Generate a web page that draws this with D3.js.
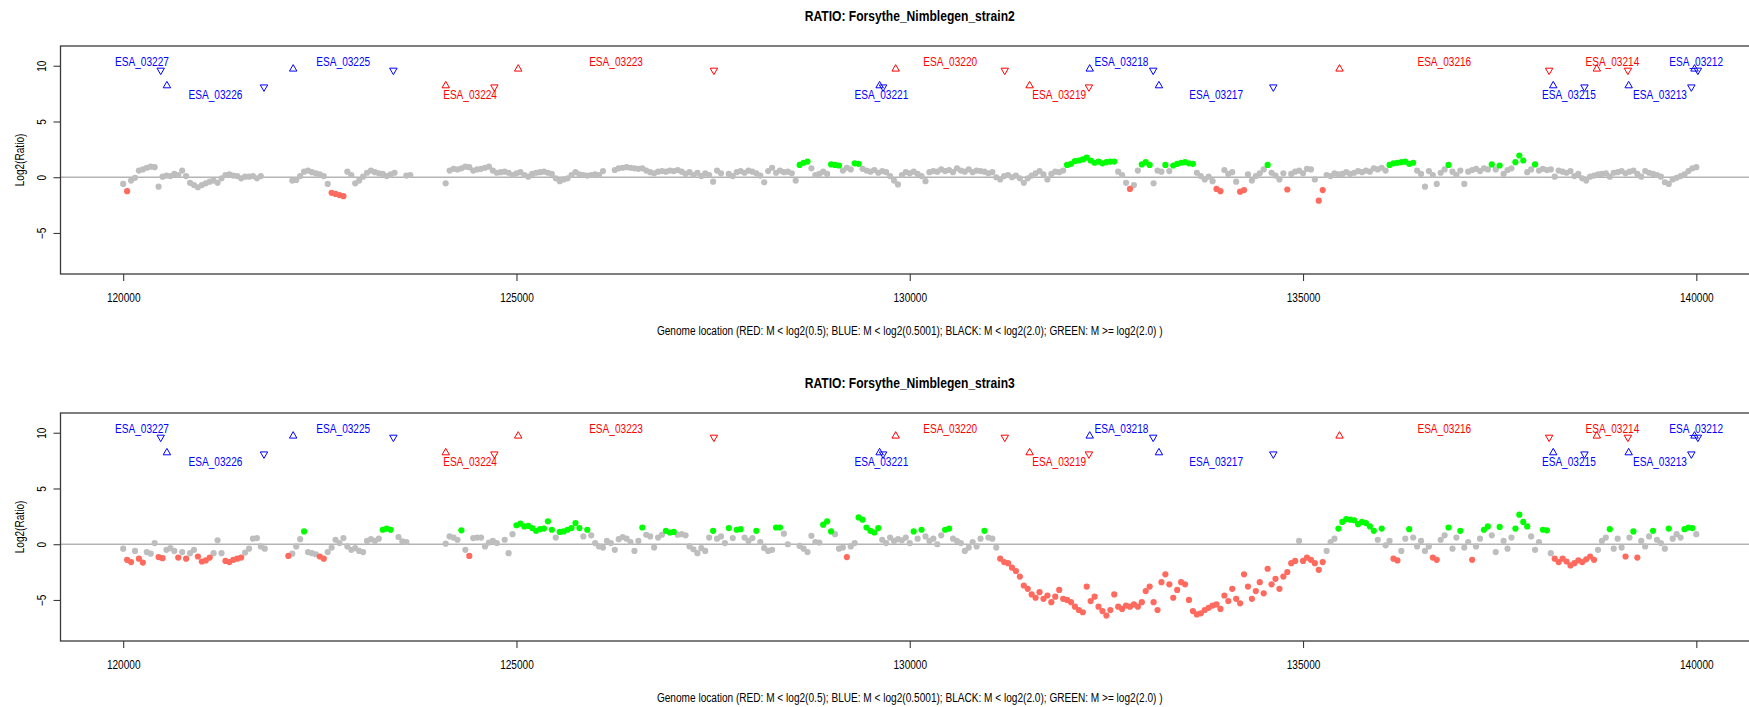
<!DOCTYPE html>
<html>
<head>
<meta charset="utf-8">
<script src="https://cdn.jsdelivr.net/npm/d3@7"></script>
<style>
  body { margin: 0; background: #fff; }
  svg { display: block; }
  text { font-family: "Liberation Sans", Arial, Helvetica, sans-serif; }
</style>
</head>
<body>
<svg id="chart" width="1749" height="707"></svg>
<script>
// Probe spacing along the genome (bp); each run lists consecutive probe log2 ratios.
const probeStep = 50;

// Forsythe_Nimblegen_strain2: [first probe position, [log2 ratios...]]
const strain2Runs = [
  [120000, [-0.6,-1.25,-0.3,-0.05,0.6,0.7,0.85,0.95,0.9,-0.85,0.05,0.15,0.1,0.3,0.2,0.6,0.1,-0.5,-0.7,-0.9,-0.7,-0.55,-0.4,-0.3,-0.5,-0.1,0.2,0.25,0.15,0.1,-0.1,0.05,0.05,0.1,-0.1,0.1]],
  [122150, [-0.3,-0.25,0.1,0.5,0.6,0.45,0.35,0.25,0.1,-0.6,-1.4,-1.5,-1.6,-1.7,0.5,0.2,-0.55,-0.3,0.05,0.4,0.6,0.45,0.35,0.3,0.1,0.25,0.4]],
  [123600, [0.15,0.2]],
  [124100, [-0.55,0.6,0.75,0.7,0.8,0.95,0.9,0.6,0.7,0.75,0.85,0.95,0.6,0.4,0.45,0.5,0.4,0.2,0.35,0.45,0.2,0.05,0.3,0.4,0.45,0.5,0.4,0.3,-0.1,-0.35,-0.2,-0.1,0.2,0.45,0.25,0.2,0.15,0.2,0.25,0.2,0.55]],
  [126250, [0.65,0.8,0.85,0.9,0.85,0.8,0.75,0.8,0.6,0.45,0.35,0.5,0.55,0.5,0.6,0.55,0.65,0.5,0.3,0.45,0.2,0.4,0.1,0.35,0.2,-0.4,0.6,0.35]],
  [127700, [0.3,0.1,0.45,0.55,0.4,0.6,0.5,0.35,0.15,-0.45,0.55,0.85,0.4,0.6,0.45,0.5,0.35]],
  [128550, [-0.3,1.1,1.3,1.4,0.8,0.2,0.3,0.5,0.3,1.15,1.1,1.05,0.6,0.85,0.7,1.25,1.2,0.75,0.6,0.5,0.65,0.4,0.55,0.45,0.1,-0.3,-0.65,0.2,0.45,0.35,0.5,0.3,0.1,-0.35,0.45,0.55,0.5,0.7,0.55,0.65,0.45,0.8,0.6,0.5,0.7,0.45,0.6,0.55,0.5,0.35,0.45,0.0,-0.2,0.1,0.2,0.0,0.15,-0.1,-0.5,-0.1,0.15,0.35,0.55,0.25,-0.2,0.3,0.5,0.45,0.6,1.1,1.2,1.45,1.5,1.6,1.75,1.5,1.3,1.4,1.25,1.35,1.4,1.4,0.5,0.2,-0.5,-1.05,-0.7,0.6,1.15,1.35,1.1,-0.55,0.6,0.5,1.1,0.55,1.05,1.2,1.3,1.35,1.25,1.2,0.4,0.1,-0.2,0.05,-0.35,-1.05,-1.25,0.65,0.3,0.45,-0.4,-1.3,-1.15,0.25,-0.3,0.1,0.35,0.7,1.1,0.4,0.15,-0.2,0.35,-1.1,0.3,0.5,0.6,0.35,0.75,0.7,-0.2,-2.1,-1.15,0.2,0.1,0.35,0.25,0.3,0.45,0.3,0.4,0.55,0.45,0.6,0.5,0.8,0.7,0.85,0.6,1.1,1.25,1.3,1.35,1.4,1.2,1.3,0.6,0.3,-0.85,0.55,0.2,-0.6,0.4,0.7,1.1,0.5,0.2,0.6,-0.6,0.5,0.65,0.75,0.55,0.8,0.7,1.15,0.7,1.05,0.3,0.65,0.8,1.35,1.95,1.5,0.45,0.7,1.15,0.6,0.75,0.65,0.7,0.05,0.6,0.5,0.4,0.55,0.1,0.3,-0.1,-0.3,0.05,0.15,0.25,0.3,0.35,0.05,0.4,0.45,0.55,0.35,0.5,0.6,0.3,0.05,0.55,0.4,0.3,0.2,0.05,-0.45,-0.6,-0.2,-0.05,0.1,0.25,0.55,0.8,0.9]]
];

// Forsythe_Nimblegen_strain3
const strain3Runs = [
  [120000, [-0.4,-1.4,-1.6,-0.6,-1.3,-1.65,-0.7,-0.85,0.1,-1.15,-1.25,-0.5,-0.35,-0.6,-1.2,-0.7,-1.3,-0.8,-0.5,-1.1,-1.55,-1.45,-1.2,-0.8,0.35,-0.8,-1.5,-1.6,-1.4,-1.3,-1.2,-0.75,-0.4,0.5,0.55,-0.2,-0.4]],
  [122100, [-1.05,-0.85,-0.2,0.45,1.15,-0.7,-0.8,-0.9,-1.1,-1.3,-0.7,-0.3,0.4,0.1,0.55,-0.2,-0.5,-0.35,-0.6,-0.7,0.3,0.45,0.3,0.5,1.3,1.4,1.3]],
  [123500, [0.65,0.25,0.2]],
  [124100, [0.05,0.7,0.6,0.4,1.25,-0.5,-1.05,0.55,0.6,0.6,-0.2,0.15,0.3,0.1]],
  [124850, [0.4,-0.8,0.9,1.7,1.85,1.6,1.65,1.45,1.2,1.35,1.4,2.05,1.3,0.6,1.1,1.15,1.3,1.45,1.9,1.45,0.7,1.3,0.8,0.1,-0.2,-0.3,0.3,0.1,-0.5,0.45,0.65,0.5,0.2,-0.6,0.3,1.5,0.85,0.7,-0.3,0.6,0.85,1.2,1.05,1.1,0.85,0.9,0.8,-0.2,-0.45,-0.8,-0.35,-0.6,0.6,1.2,0.5,0.7,0.1,1.45,0.55,1.3,1.35,0.6,0.3,0.55,1.2,0.2,-0.35,-0.6,-0.5,1.5,1.5,0.95,0.0]],
  [128600, [-0.15,-0.4,-0.7,0.75,0.2,0.15,1.75,2.05,1.15,0.9,-0.4,-0.3,-1.15,-0.2,0.1,2.4,2.2,1.5,1.2,1.05,1.45,0.4,0.1,0.6,0.3,0.45,0.35,0.6,0.1,1.15,0.5,1.3,0.7,0.3,0.5,0.0,0.8,1.3,1.4,0.5,0.3,0.1,-0.6,-0.3,0.2,-0.2,0.5,1.2,0.6,0.5,-0.3,-1.3,-1.6,-1.7,-2.1,-2.4,-2.9,-3.7,-4.0,-4.5,-4.8,-4.3,-4.9,-4.6,-5.2,-4.7,-4.1,-4.9,-5.0,-5.2,-5.6,-5.9,-6.1,-3.8,-5.1,-4.7,-5.6,-6.0,-6.4,-5.9,-4.5,-5.6,-5.8,-5.5,-5.6,-5.4,-5.6,-5.2,-4.2,-3.8,-5.2,-5.9,-3.4,-2.7,-3.6,-4.8,-4.1,-3.4,-3.6,-5.0,-6.0,-6.3,-6.2,-5.9,-5.7,-5.5,-5.4,-5.8,-4.6,-5.1,-4.0,-4.9,-5.3,-2.7,-3.8,-4.9,-4.2,-3.4,-4.4,-2.2,-3.6,-3.1,-4.0,-2.9,-2.5,-1.7,-1.5,0.3,-1.5,-1.2,-1.4,-1.7,-2.3,-1.6,-0.6,0.2,0.5,1.4,2.0,2.25,2.2,2.15,1.8,2.0,1.9,1.6,1.2,0.4,1.4,-0.1,0.3,-1.3,-1.45,-0.6,0.5,1.35,0.6,-0.2,0.3,-0.6,-0.2,-1.2,-1.4,0.4,0.8,1.5,-0.4,0.6,1.2,-0.3,0.2,-1.4,-0.2,0.5,1.3,1.6,0.8,-0.7,1.55,0.3,-0.4,0.6,1.4,2.65,2.0,1.6,0.7,-0.5,0.2,1.3,1.25,-0.8,-1.3,-1.6,-1.3,-1.55,-1.9,-1.7,-1.45,-1.6,-1.35,-1.1,-1.4,-0.5,0.3,0.6,1.35,-0.4,0.5,-0.3,-1.1,0.6,1.15,-1.2,0.3,-0.2,0.7,1.2,0.4,0.1,-0.4,1.4,0.5,0.9,0.6,1.35,1.5,1.45,0.9]]
];

// Gene annotations: name, start, end, strand, track row
const geneNames  = ["ESA_03227","ESA_03226","ESA_03225","ESA_03224","ESA_03223","ESA_03221","ESA_03220","ESA_03219","ESA_03218","ESA_03217","ESA_03216","ESA_03215","ESA_03214","ESA_03213","ESA_03212"];
const geneStarts = [119400,120556,122161,124101,125022,129617,129821,131524,132288,133168,135464,138181,138735,139140,139977];
const geneEnds   = [120477,121790,123435,124719,127510,129661,131208,132278,133095,134622,138129,138578,139130,139937,140020];
const geneStrand = ["-","-","-","+","+","-","+","+","-","-","+","-","+","-","-"];
const geneRow    = ["upper","lower","upper","lower","upper","lower","upper","lower","upper","lower","upper","lower","upper","lower","upper"];

const xTicks = [120000, 125000, 130000, 135000, 140000];
const yTicks = [-5, 0, 5, 10];
const panelTitles = ["RATIO: Forsythe_Nimblegen_strain2", "RATIO: Forsythe_Nimblegen_strain3"];
const xAxisTitle = "Genome location (RED: M < log2(0.5); BLUE: M < log2(0.5001); BLACK: M < log2(2.0); GREEN: M >= log2(2.0) )";
const yAxisTitle = "Log2(Ratio)";

// ---- layout ----
const svg = d3.select("#chart");
const panelOffsets = [0, 367];
const plotLeft = 60.5, plotRight = 1759, plotTop = 46, plotBottom = 274;
const viewStart = 120000;
const rowLevel = { upper: 9.65, lower: 8.15 };
const strandColor = { "+": "#ff0000", "-": "#0000ff" };
const pointColor = { red: "#ff6a5f", blue: "#0000ff", gray: "#bebebe", green: "#00ff00" };

const x = d3.scaleLinear().domain([119203, 140797]).range([plotLeft, plotRight]);
const y = d3.scaleLinear().domain([-8.68, 11.77]).range([plotBottom, plotTop]);

// narrow the glyphs the way the raster fonts of the plotting device do
function condense(sel, k = 0.84) {
  sel.each(function () {
    const w = this.getComputedTextLength();
    this.setAttribute("textLength", (w * k).toFixed(2));
    this.setAttribute("lengthAdjust", "spacingAndGlyphs");
  });
}

function classify(m) {
  if (m < Math.log2(0.5)) return "red";
  if (m < Math.log2(0.5001)) return "blue";
  if (m < Math.log2(2.0)) return "gray";
  return "green";
}

function expandRuns(runs) {
  const pts = [];
  runs.forEach(([start, vals]) => {
    vals.forEach((v, i) => pts.push({ pos: start + i * probeStep, m: v, cls: classify(v) }));
  });
  return pts;
}

const genes = geneNames.map((name, i) => ({
  name, start: geneStarts[i], end: geneEnds[i], strand: geneStrand[i], row: geneRow[i]
}));

svg.append("defs").append("clipPath").attr("id", "plotClip")
  .append("rect").attr("x", plotLeft).attr("y", plotTop)
  .attr("width", plotRight - plotLeft).attr("height", plotBottom - plotTop);

[strain2Runs, strain3Runs].forEach((runs, p) => {
  const g = svg.append("g").attr("transform", `translate(0,${panelOffsets[p]})`);
  const pts = expandRuns(runs);

  // title
  g.append("text")
    .attr("x", (plotLeft + plotRight) / 2).attr("y", 20.5)
    .attr("text-anchor", "middle").attr("font-size", 14.4).attr("font-weight", "bold")
    .attr("fill", "#000").text(panelTitles[p]).call(condense);

  const plot = g.append("g").attr("clip-path", "url(#plotClip)");

  // zero reference line
  plot.append("line")
    .attr("x1", plotLeft).attr("x2", plotRight)
    .attr("y1", y(0)).attr("y2", y(0))
    .attr("stroke", "#b4b4b4").attr("stroke-width", 1.5);

  // probes: gray first, coloured calls on top
  const order = { gray: 0, blue: 1, red: 2, green: 3 };
  plot.append("g").selectAll("circle")
    .data(pts.slice().sort((a, b) => order[a.cls] - order[b.cls]))
    .join("circle")
    .attr("cx", d => x(d.pos)).attr("cy", d => y(d.m))
    .attr("r", 3.1).attr("fill", d => pointColor[d.cls]);

  // gene annotations: start (up triangle), end (down triangle), name at the middle
  const ann = plot.append("g");
  const up = d3.symbol().type(d3.symbolTriangle).size(24)();
  genes.forEach(gn => {
    const col = strandColor[gn.strand];
    const ty = y(rowLevel[gn.row]);
    if (gn.start >= viewStart) {
      ann.append("path").attr("d", up)
        .attr("transform", `translate(${x(gn.start)},${ty - 0.7})`)
        .attr("fill", "none").attr("stroke", col).attr("stroke-width", 1);
    }
    ann.append("path").attr("d", up)
      .attr("transform", `translate(${x(gn.end)},${ty + 0.7}) rotate(180)`)
      .attr("fill", "none").attr("stroke", col).attr("stroke-width", 1);
    const mid = (Math.max(gn.start, viewStart) + gn.end) / 2;
    ann.append("text")
      .attr("x", x(mid))
      .attr("y", gn.row === "upper" ? ty - 8 : ty + 8)
      .attr("dy", "0.35em")
      .attr("text-anchor", "middle").attr("font-size", 12)
      .attr("fill", col).text(gn.name).call(condense);
  });

  // frame
  g.append("rect")
    .attr("x", plotLeft).attr("y", plotTop)
    .attr("width", plotRight - plotLeft).attr("height", plotBottom - plotTop)
    .attr("fill", "none").attr("stroke", "#3a3a3a").attr("stroke-width", 1.3);

  // x axis
  const xa = g.append("g").attr("transform", `translate(0,${plotBottom})`)
    .call(d3.axisBottom(x).tickValues(xTicks).tickFormat(d3.format("d")).tickSize(7).tickPadding(12));
  xa.select(".domain").remove();
  xa.selectAll(".tick line").attr("stroke", "#3a3a3a").attr("stroke-width", 1.1);
  xa.selectAll(".tick text").attr("font-size", 12).attr("font-family", null).attr("fill", "#000").call(condense);

  // y axis with labels parallel to the axis
  const ya = g.append("g").attr("transform", `translate(${plotLeft},0)`)
    .call(d3.axisLeft(y).tickValues(yTicks).tickFormat(d => d < 0 ? "\u2212" + Math.abs(d) : d).tickSize(7));
  ya.select(".domain").remove();
  ya.selectAll(".tick line").attr("stroke", "#3a3a3a").attr("stroke-width", 1.1);
  ya.selectAll(".tick text")
    .attr("x", 0).attr("dy", "0.35em").attr("text-anchor", "middle")
    .attr("transform", "translate(-18.5,0) rotate(-90)")
    .attr("font-size", 12).attr("font-family", null).attr("fill", "#000").call(condense);

  // axis titles
  g.append("text")
    .attr("x", (plotLeft + plotRight) / 2).attr("y", 331).attr("dy", "0.35em")
    .attr("text-anchor", "middle").attr("font-size", 12).attr("fill", "#000")
    .text(xAxisTitle).call(condense);
  g.append("text")
    .attr("transform", `translate(20,${(plotTop + plotBottom) / 2}) rotate(-90)`)
    .attr("dy", "0.35em").attr("text-anchor", "middle").attr("font-size", 12).attr("fill", "#000")
    .text(yAxisTitle).call(condense);
});
</script>
</body>
</html>
